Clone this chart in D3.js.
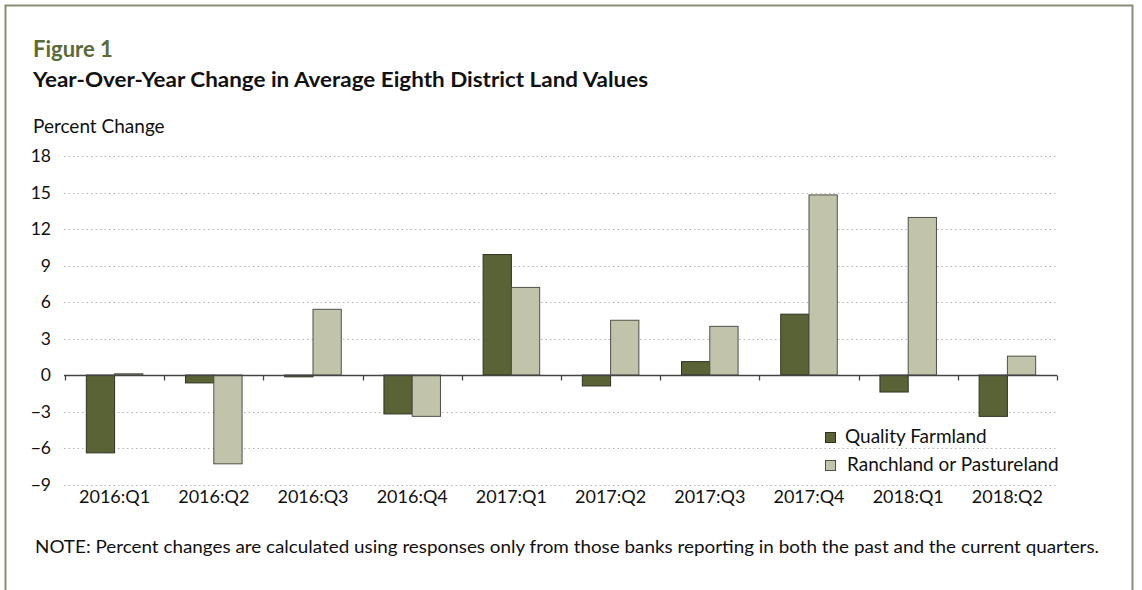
<!DOCTYPE html>
<html><head><meta charset="utf-8">
<script src="https://cdn.jsdelivr.net/npm/d3@7"></script>
<style>
body{margin:0;background:#fff;}
text{font-family:Lato,"Open Sans",sans-serif;fill:#111;}
</style></head>
<body><svg id="c" width="1142" height="590"></svg>
<script>
const categories = ["2016:Q1","2016:Q2","2016:Q3","2016:Q4","2017:Q1","2017:Q2","2017:Q3","2017:Q4","2018:Q1","2018:Q2"];
const qualityFarmland = [-6.4, -0.65, -0.15, -3.2, 9.9, -0.9, 1.1, 5.0, -1.4, -3.4];
const ranchland = [0.1, -7.3, 5.4, -3.4, 7.2, 4.5, 4.0, 14.8, 12.95, 1.55];
const seriesNames = ["Quality Farmland", "Ranchland or Pastureland"];
const seriesColors = ["#5a6336", "#c1c4aa"];
const seriesStroke = ["#2e3320", "#505048"];
const yTicks = [-9, -6, -3, 0, 3, 6, 9, 12, 15, 18];

const svg = d3.select("#c");
// frame
svg.append("path").attr("d","M5.5,590 V5.5 H1132.5 V590").attr("fill","none").attr("stroke","#8c8c76").attr("stroke-width",2);

svg.append("text").attr("x",33).attr("y",57).text("Figure 1")
  .style("font-weight","bold").style("font-size","22px").style("fill","#5b6a37");
svg.append("text").attr("x",33).attr("y",87).text("Year-Over-Year Change in Average Eighth District Land Values")
  .style("font-weight","bold").style("font-size","20px").attr("textLength",615).attr("lengthAdjust","spacingAndGlyphs");
svg.append("text").attr("x",33).attr("y",133).text("Percent Change").style("font-size","19px");

const x0 = d3.scaleBand().domain(categories).range([65,1057]).paddingInner(0.43).paddingOuter(0.215);
const x1 = d3.scaleBand().domain([0,1]).range([0,x0.bandwidth()]);
const y = d3.scaleLinear().domain([-9,18]).range([484.5,156]);

// gridlines
svg.append("g").selectAll("line").data(yTicks.filter(d=>d!==0)).join("line")
  .attr("x1",64).attr("x2",1057).attr("y1",d=>Math.round(y(d))+0.5).attr("y2",d=>Math.round(y(d))+0.5)
  .attr("stroke","#b5b5b5").attr("stroke-width",1).attr("stroke-dasharray","1.5,3");

// y labels
const yAxis = d3.axisLeft(y).tickValues(yTicks).tickSize(0).tickPadding(0).tickFormat(d=>d<0?"\u2212"+Math.abs(d):d);
const ya = svg.append("g").attr("transform","translate(51,0)").call(yAxis);
ya.select(".domain").remove();
ya.selectAll("text").style("font-size","17.5px").style("font-family","Lato,'Open Sans',sans-serif").attr("fill","#111");

// bars
const groups = svg.append("g").selectAll("g").data(categories).join("g")
  .attr("transform",d=>`translate(${x0(d)},0)`);
[qualityFarmland, ranchland].forEach((vals,si)=>{
  groups.append("rect")
    .attr("x",x1(si)).attr("width",x1.bandwidth())
    .attr("y",(d,i)=>y(Math.max(0,vals[i])))
    .attr("height",(d,i)=>Math.abs(y(vals[i])-y(0)))
    .attr("fill",seriesColors[si]).attr("stroke",seriesStroke[si]).attr("stroke-width",1);
});

// zero axis with ticks
const zl = Math.round(y(0))+0.5;
svg.append("line").attr("x1",64).attr("x2",1057).attr("y1",zl).attr("y2",zl).attr("stroke","#444").attr("stroke-width",1.3);
const bounds = categories.map(c=>x0(c)-x0.step()*x0.paddingInner()/2).concat([1057]);
bounds[0] = 65;
svg.append("g").selectAll("line").data(bounds).join("line")
  .attr("x1",d=>Math.round(d)+0.5).attr("x2",d=>Math.round(d)+0.5).attr("y1",zl).attr("y2",zl+5)
  .attr("stroke","#444").attr("stroke-width",1.3);

// category labels
const xa = svg.append("g").attr("transform","translate(0,503)").call(d3.axisBottom(x0).tickSize(0).tickPadding(0));
xa.select(".domain").remove();
xa.selectAll("text").attr("dy",0).style("font-size","18px").style("font-family","Lato,'Open Sans',sans-serif").attr("fill","#111");

// legend
const lg = svg.append("g");
seriesNames.forEach((n,i)=>{
  lg.append("rect").attr("x",825.5).attr("y",432.5+i*28).attr("width",10).attr("height",10)
    .attr("fill",seriesColors[i]).attr("stroke",seriesStroke[i]).attr("stroke-width",1);
  lg.append("text").attr("x",845+i*2).attr("y",443+i*28).text(n).style("font-size","19px");
});

svg.append("text").attr("x",35).attr("y",553)
  .text("NOTE: Percent changes are calculated using responses only from those banks reporting in both the past and the current quarters.")
  .style("font-size","16.5px").attr("textLength",1064).attr("lengthAdjust","spacingAndGlyphs");
</script></body></html>
